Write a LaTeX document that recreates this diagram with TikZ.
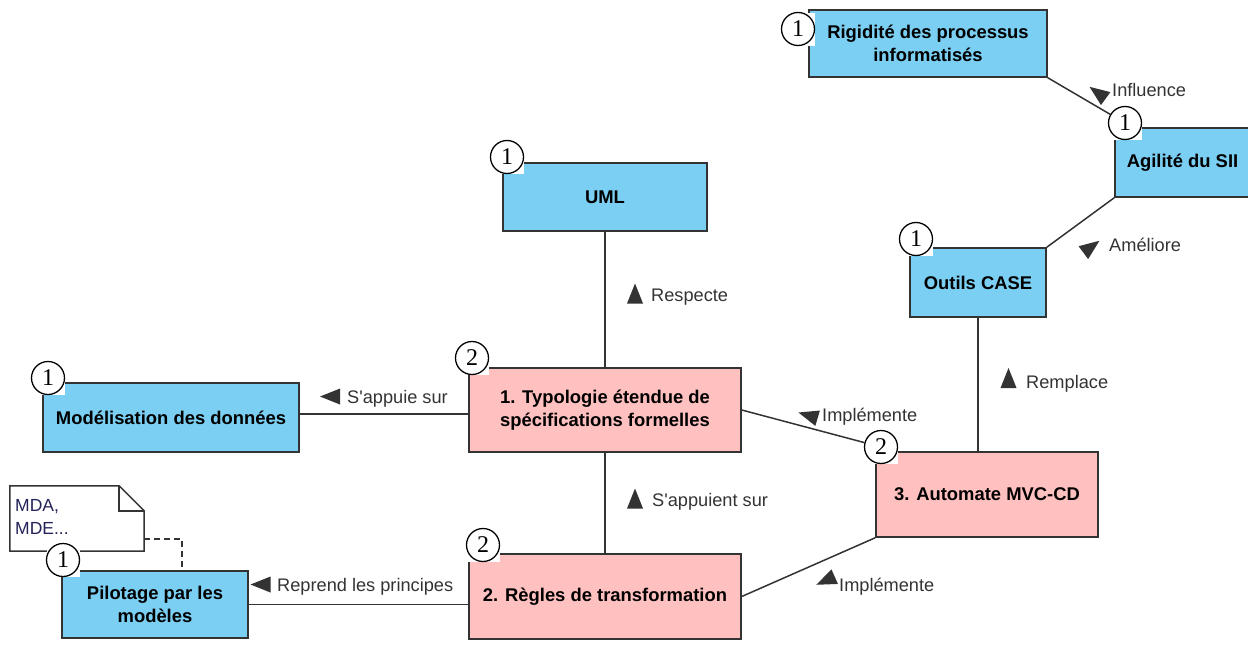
\documentclass[tikz,border=0pt]{standalone}
\usepackage{fontspec}
\setsansfont{Liberation Sans}
\newfontfamily\badgefont{Liberation Serif}
\usepackage{xcolor}
\usepackage{tikz}
\usetikzlibrary{arrows,shapes,backgrounds,fit,positioning}

\definecolor{umlblue}{RGB}{122,207,243}
\definecolor{umlpink}{RGB}{255,192,192}
\definecolor{umlline}{RGB}{51,51,51}
\definecolor{notetext}{RGB}{35,35,90}

\begin{document}
\begin{tikzpicture}[x=1pt,y=-1pt]
      \tikzstyle{concept}=[draw=umlline, line width=1.5pt, fill=umlblue, align=center, inner sep=0pt, font=\sffamily\bfseries\fontsize{18.4}{23}\selectfont]
      \tikzstyle{part}=[concept, fill=umlpink]
      \tikzstyle{link}=[draw=umlline, line width=1.5pt]
      \tikzstyle{link_text}=[anchor=base west, inner sep=0pt, text=umlline, font=\sffamily\fontsize{18.2}{22}\selectfont]
      \tikzstyle{badge_bg}=[fill=white, minimum size=33pt, inner sep=0pt]
      \tikzstyle{badge}=[circle, draw=black, line width=1.3pt, fill=white, minimum size=33pt, inner sep=0pt, font=\badgefont\fontsize{24}{24}\selectfont]
      \tikzset{dir_mark/.pic={\fill[umlline] (10.5pt,0pt) -- (-9.5pt,8pt) -- (-9.5pt,-8pt) -- cycle;}}

      \useasboundingbox (0,0) rectangle (1248,645);

      % concepts
      \node [concept, minimum width=238pt, minimum height=67pt] (rigid) at (928,43.5) {Rigidité des processus\\informatisés};
      \node [concept, minimum width=135pt, minimum height=69pt] (agil) at (1182.5,162.5) {Agilité du SII};
      \node [concept, minimum width=136pt, minimum height=69pt] (case) at (978,282.5) {Outils CASE};
      \node [concept, minimum width=204pt, minimum height=68pt] (uml) at (605,197) {UML};
      \node [concept, minimum width=256pt, minimum height=69pt] (modele) at (171,417.5) {Modélisation des données};
      \node [concept, minimum width=186pt, minimum height=67pt] (pilot) at (155,604.5) {Pilotage par les\\modèles};

      % contributions
      \node [part, minimum width=272pt, minimum height=84pt] (typo) at (605,410) {1. Typologie étendue de\\spécifications formelles};
      \node [part, minimum width=222pt, minimum height=85pt] (mvc) at (987,494.5) {3. Automate MVC-CD};
      \node [part, minimum width=272pt, minimum height=85pt] (regles) at (605,596.5) {2. Règles de transformation};

      % note
      \node [minimum width=134pt, minimum height=65pt, inner sep=0pt] (note) at (77,518.5) {};
      \draw [link, fill=white] (note.north west) -- ([xshift=-25pt]note.north east) -- ([yshift=-25pt]note.north east)
        -- (note.south east) -- (note.south west) -- cycle;
      \draw [link] ([xshift=-25pt]note.north east) |- ([yshift=-25pt]note.north east);
      \node [anchor=west, align=left, inner sep=0pt, text=notetext, font=\sffamily\fontsize{17.5}{23}\selectfont] (note_txt) at (15,517) {MDA,\\MDE...};
      \draw [link, dash pattern=on 6pt off 4pt] ([yshift=-20.5pt]note.east) -| ([xshift=27pt]pilot.north);

      % badges
      \foreach \nm/\bx/\by/\num in {rigid/798/29/1, agil/1125/123/1, case/916/239/1, uml/507/157/1,
          modele/48/378/1, pilot/63/560/1, typo/472/358/2, mvc/881/447/2, regles/483/545/2} {
        \node [badge_bg] at (\bx,\by) {};
        \node [badge] (b\nm) at (\bx,\by) {\num};
      }

      % links
      \draw [link] (rigid.south east) -- (bagil);
      \pic [rotate=144] at (1098,93) {dir_mark};
      \node [link_text] (l_influence) at (1112,96.7) {Influence};

      \draw [link] (agil.south west) -- (case.north east);
      \pic [rotate=36.5] at (1091,247) {dir_mark};
      \node [link_text] (l_ameliore) at (1109,251) {Améliore};

      \draw [link] (case.south) -- (case.south |- mvc.north);
      \pic [rotate=90] at (1008.5,378.5) {dir_mark};
      \node [link_text] (l_remplace) at (1026,388.3) {Remplace};

      \draw [link] (uml.south) -- (typo.north);
      \pic [rotate=90] at (635,294) {dir_mark};
      \node [link_text] (l_respecte) at (651,301.5) {Respecte};

      \draw [link] ([yshift=3.5pt]modele.east) -- ([yshift=3.5pt]modele.east -| typo.west);
      \pic [rotate=180] at (330.5,396.5) {dir_mark};
      \node [link_text] (l_appuie) at (347,403) {S\textquotesingle appuie sur};

      \draw [link] (typo.south) -- (regles.north);
      \pic [rotate=90] at (635,499) {dir_mark};
      \node [link_text] (l_appuient) at (652,506) {S\textquotesingle appuient sur};

      \draw [link] (typo.east) -- (bmvc);
      \pic [rotate=163.4] at (808.5,415.5) {dir_mark};
      \node [link_text] (l_impl1) at (822,421) {Implémente};

      \draw [link] (regles.east) -- (mvc.south west);
      \pic [rotate=204] at (826,580.5) {dir_mark};
      \node [link_text] (l_impl2) at (839,591.5) {Implémente};

      \draw [link] (pilot.east) -- (pilot.east -| regles.west);
      \pic [rotate=180] at (261,584.5) {dir_mark};
      \node [link_text] (l_reprend) at (277,591) {Reprend les principes};
\end{tikzpicture}
\end{document}
